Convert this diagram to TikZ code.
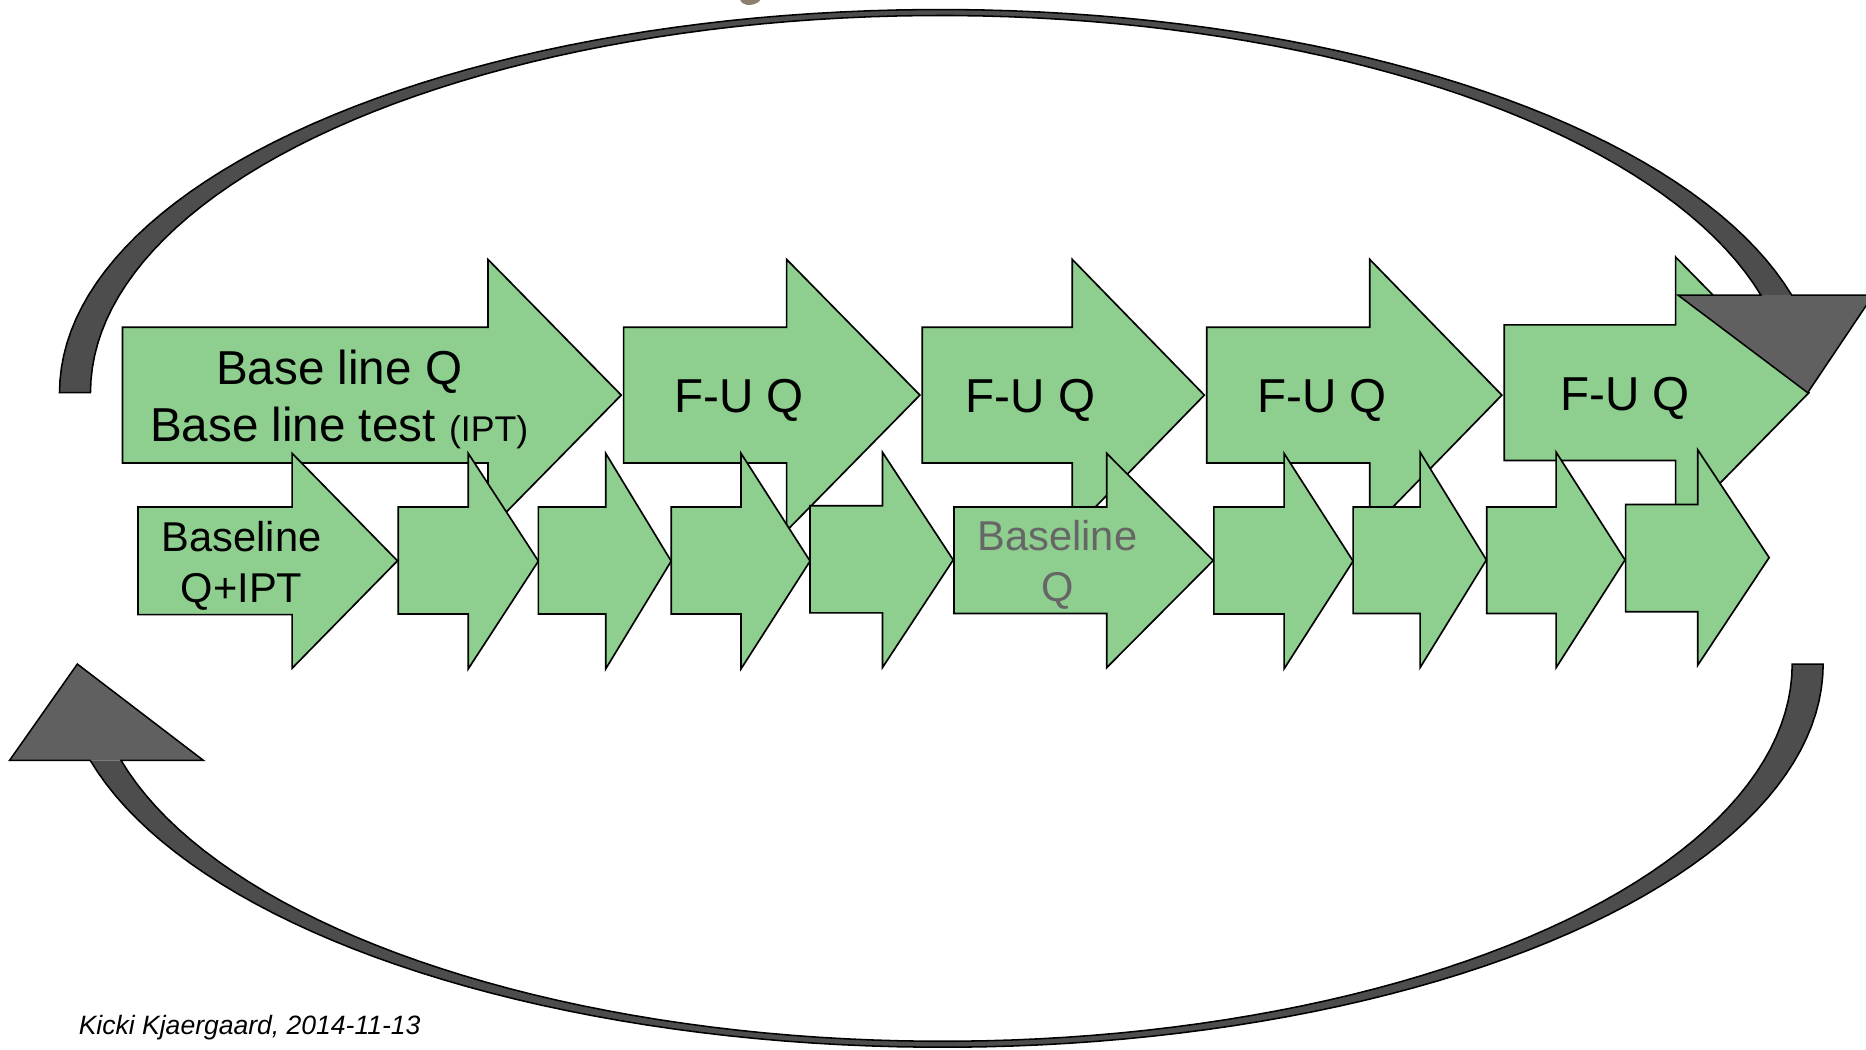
\documentclass[tikz,border=0pt]{standalone}
\usepackage{fontspec}
\setmainfont{Liberation Sans}
\definecolor{agreen}{HTML}{8ECF8F}
\definecolor{bandgray}{HTML}{4D4D4D}
\definecolor{headgray}{HTML}{606060}
\definecolor{txtgray}{HTML}{666666}
\definecolor{blobc}{HTML}{8C7F6E}
\newcommand{\garrow}[7]{\draw[garrowsty] (#1,#4) -- (#2,#4) -- (#2,#6) -- (#3,{(#6+#7)/2}) -- (#2,#7) -- (#2,#5) -- (#1,#5) -- cycle;}
\begin{document}
\begin{tikzpicture}[x=1pt,y=-1pt,
  garrowsty/.style={fill=agreen, draw=black, line width=1.4pt, line join=miter},
  darkline/.style={draw=black, line width=1.3pt, line join=miter},
  bigtxt/.style={font=\fontsize{40}{47.5}\selectfont, inner sep=0pt, align=center, anchor=base},
  midtxt/.style={font=\fontsize{35}{42.5}\selectfont, inner sep=0pt, align=center, anchor=base}]
\useasboundingbox (0,0) rectangle (1568,882);
\fill[white] (0,0) rectangle (1568,882);
% fragment at top
\fill[blobc] (622,0) .. controls (623,4) and (630,6) .. (637,2) -- (639,0) -- cycle;
% top row
\garrow{103}{410}{522}{275}{389}{218}{446}
\garrow{524}{661}{773}{275}{389}{218}{446}
\garrow{775}{901}{1012}{275}{389}{218}{446}
\garrow{1014}{1151}{1262}{275}{389}{218}{446}
\garrow{1264}{1408}{1520}{273}{387}{216}{444}
% bottom row
\garrow{116}{245.5}{334}{426}{516.5}{381}{561.5}
\garrow{334.7}{393.5}{452.4}{426}{516}{381}{562}
\garrow{452.4}{509}{564}{426}{516}{381}{562}
\garrow{564}{622.7}{680.7}{426}{516}{381}{562}
\garrow{680.7}{741.5}{801}{425}{515}{380}{561}
\garrow{801.7}{930}{1019.5}{426}{515.5}{381}{561}
\garrow{1020}{1079}{1137}{426}{516}{381}{562}
\garrow{1137}{1193.3}{1249}{426}{515.5}{380}{561}
\garrow{1249.3}{1307.6}{1365.5}{426}{515.5}{380}{561}
\garrow{1366}{1426.6}{1486.6}{424}{514}{378}{559}
% texts
\node[bigtxt] (t1) at (285,371) {Base line Q\\Base line test {\fontsize{30}{36}\selectfont (IPT)}};
\node[bigtxt] (t2) at (621,347) {F-U Q};
\node[bigtxt] (t3) at (866,347) {F-U Q};
\node[bigtxt] (t4) at (1111,347) {F-U Q};
\node[bigtxt] (t5) at (1365.5,345) {F-U Q};
\node[midtxt] (t6) at (203,506) {Baseline\\Q+IPT};
\node[midtxt, text=txtgray] (t7) at (888.5,505.5) {Baseline\\Q};
\node[anchor=base west, inner sep=0pt, font=\fontsize{22.3}{26}\selectfont\itshape] (auth) at (66,869) {Kicki Kjaergaard, 2014-11-13};
% top curved arrow
\fill[bandgray] plot[domain=180:14.75, samples=90] ({790+740*cos(\x)},{330-322*sin(\x)}) -- plot[domain=14.99:180, samples=90] ({790+714*cos(\x)},{330-317*sin(\x)}) -- cycle;
\fill[headgray] (1410,248) -- (1574,248) -- (1519,330) -- cycle;
\draw[darkline] plot[domain=180:14.75, samples=90] ({790+740*cos(\x)},{330-322*sin(\x)}) -- (1574,248) -- (1519,330) -- (1410,248) -- plot[domain=14.99:180, samples=90] ({790+714*cos(\x)},{330-317*sin(\x)}) -- cycle;
% bottom curved arrow
\fill[bandgray] plot[domain=0:165.43, samples=90] ({792+740*cos(\x)},{558+322*sin(\x)}) -- plot[domain=165.2:0, samples=90] ({792+714*cos(\x)},{558+317*sin(\x)}) -- cycle;
\fill[headgray] (8,639) -- (65,558) -- (171,639) -- cycle;
\draw[darkline] plot[domain=0:165.43, samples=90] ({792+740*cos(\x)},{558+322*sin(\x)}) -- (8,639) -- (65,558) -- (171,639) -- plot[domain=165.2:0, samples=90] ({792+714*cos(\x)},{558+317*sin(\x)}) -- cycle;
\end{tikzpicture}
\end{document}
